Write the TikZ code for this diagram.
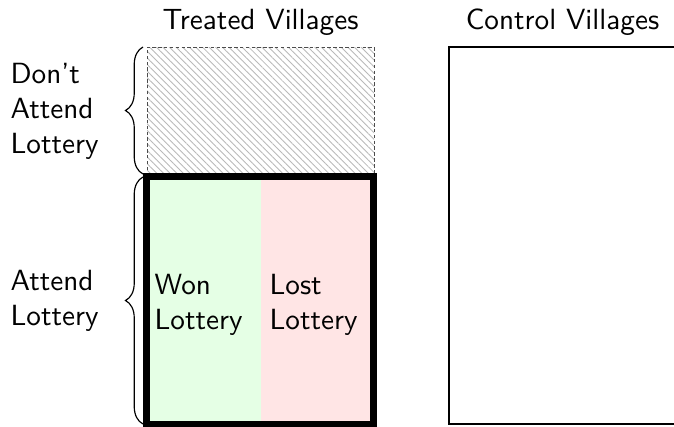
\documentclass[tikz,border=0pt]{standalone}
\usetikzlibrary{patterns.meta,decorations.pathreplacing}
\definecolor{wonfill}{RGB}{229,255,229}
\definecolor{lostfill}{RGB}{255,229,229}
\begin{document}
\begin{tikzpicture}[x=0.3425pt,y=-0.3425pt,
  lbl/.style={font=\sffamily\fontsize{10}{12}\selectfont, align=left, inner sep=0pt, anchor=west},
  hdr/.style={font=\sffamily, inner sep=0pt, anchor=base},
  grp/.style={decorate, decoration={brace, amplitude=6pt}, line width=0.4pt},
  hatch/.style={pattern={Lines[angle=-45,distance=1.6pt,line width=0.3pt]}, pattern color=gray!55},
  skipped/.style={gray!60!black, dash pattern=on 1.2pt off 0.8pt, line width=0.3pt},
  attended/.style={line width=2.4pt},
  ctrl/.style={line width=0.4pt}]
\useasboundingbox (0,0) rectangle (674,426);

% corner points of the treated column
\coordinate (tTop) at (147,47);
\coordinate (tMidL) at (147,176);
\coordinate (tMidR) at (374,176);
\coordinate (tBot) at (374,424.5);
\coordinate (split) at (260.5,176);
\coordinate (splitB) at (260.5,424.5);

% villagers who skip the lottery
\fill[hatch] (tTop) rectangle (tMidR);
\draw[skipped] (tMidL) |- (374,47) -- (tMidR);

% villagers who attend: winners and losers
\fill[wonfill] (tMidL) rectangle (splitB);
\fill[lostfill] (split) rectangle (tBot);
\draw[attended] (146.5,176) rectangle (373.5,424.5);

% control column
\draw[ctrl] (449,47) rectangle (676,424);

% column headers
\node[hdr] (treated) at (260.5,29) {Treated Villages};
\node[hdr] (control) at (562.5,29) {Control Villages};

% group braces
\coordinate (b1top) at (143,47);
\coordinate (b1bot) at (143,174);
\coordinate (b2top) at (143,177);
\coordinate (b2bot) at (143,424);
\draw[grp] (b1bot) -- (b1top);
\draw[grp] (b2bot) -- (b2top);

% labels
\node[lbl] (dont) at (10,111) {Don't\\Attend\\Lottery};
\node[lbl] (attend) at (10,300.5) {Attend\\Lottery};
\node[lbl] (won) at (154,304.5) {Won\\Lottery};
\node[lbl] (lost) at (269,304.5) {Lost\\Lottery};
\end{tikzpicture}
\end{document}
